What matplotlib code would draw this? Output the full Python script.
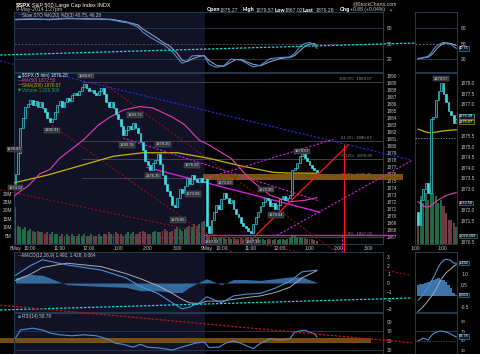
import numpy as np
import matplotlib.pyplot as plt

plt.rcParams['font.family'] = ['Liberation Sans', 'DejaVu Sans']

# ---------------- data ----------------
# $SPX 5-min closes: 8 May (78 bars), 9 May up to 1:25pm (46 bars)
day1_open = 1874.52
day1_close = [1876.0, 1879.0, 1882.5, 1884.0, 1885.5, 1886.0, 1886.5, 1885.8, 1886.4, 1885.6,
              1886.2, 1885.4, 1884.8, 1884.0, 1883.4, 1883.8, 1884.8, 1885.8, 1886.4, 1885.6,
              1886.2, 1886.8, 1886.4, 1887.2, 1887.6, 1887.2, 1887.8, 1888.4, 1888.8, 1888.2,
              1887.8, 1888.0, 1887.6, 1887.3, 1887.8, 1888.2, 1887.4, 1886.2, 1885.6, 1886.2,
              1885.4, 1884.6, 1883.8, 1882.8, 1881.6, 1882.2, 1882.8, 1882.4, 1883.2, 1882.6,
              1881.8, 1880.6, 1879.4, 1877.8, 1877.2, 1876.6, 1877.6, 1878.0, 1878.8, 1877.4,
              1875.8, 1874.6, 1873.6, 1872.8, 1871.6, 1871.2, 1872.6, 1873.8, 1873.2, 1874.2,
              1875.4, 1874.6, 1875.8, 1875.2, 1874.8, 1875.4, 1874.8, 1875.0]
day2_open = 1875.27
day2_close = [1868.5, 1867.6, 1869.4, 1870.6, 1871.6, 1871.0, 1872.4, 1873.2, 1872.6, 1871.8,
              1872.2, 1871.0, 1870.2, 1869.8, 1869.0, 1868.6, 1868.2, 1867.8, 1867.6, 1868.8,
              1869.8, 1870.6, 1871.4, 1872.0, 1872.6, 1872.2, 1871.4, 1871.8, 1871.0, 1871.6,
              1872.4, 1872.8, 1872.2, 1872.6, 1872.9, 1876.6, 1876.8, 1877.6, 1878.6, 1879.0,
              1878.2, 1877.8, 1877.2, 1876.8, 1876.5, 1876.28]
# volume, millions
day1_vol = [22, 11, 10, 9, 10, 8, 9, 8, 7, 8,
            7, 7, 6, 7, 6, 7, 6, 6, 5, 6,
            5, 6, 5, 6, 5, 5, 6, 5, 6, 5,
            5, 6, 5, 5, 6, 5, 6, 6, 7, 6,
            6, 7, 6, 6, 5, 6, 7, 6, 7, 6,
            6, 7, 8, 7, 6, 6, 7, 8, 7, 7,
            8, 9, 8, 7, 8, 9, 10, 9, 8, 9,
            10, 11, 10, 12, 11, 12, 13, 14]
day2_vol = [6, 5, 4, 4, 4, 3.5, 4, 3.5, 3, 3.5,
            3, 3.5, 3, 3, 3.5, 3, 3.5, 4, 4, 3.5,
            3, 3.5, 3, 3, 2.5, 3, 3, 2.5, 3, 2.5,
            3, 3, 2.5, 3, 3.5, 5, 4.5, 4, 4, 3.5,
            3.5, 3, 3, 3, 2.5, 1.5]

# moving averages (bar index, value)
sma50_idx = [-0.6, 2, 5, 10, 14, 18, 27.6, 34, 38.6, 44, 50.8, 56, 64, 69, 75, 79,
             88, 96, 104, 112, 118, 123]
sma50_val = [1872.8, 1873.5, 1874.2, 1876.0, 1876.6, 1878.2, 1880.8, 1883.0, 1884.1, 1885.1,
             1885.6, 1885.4, 1884.1, 1883.0, 1880.8, 1880.1,
             1878.2, 1875.1, 1872.9, 1872.0, 1872.2, 1872.58]
sma200_idx = [-0.6, 13, 27, 40, 52, 66, 79, 91, 105, 111, 123]
sma200_val = [1874.7, 1875.8, 1877.2, 1878.5, 1879.0, 1879.0, 1878.2, 1877.2, 1876.2, 1876.1, 1876.07]

# slow stochastics
sto_idx = [0, 7, 14, 21, 29, 35, 39, 43, 46, 50, 52, 55, 58, 60, 63, 66, 68, 70, 72, 75,
           77, 79, 82, 85, 88, 90, 92, 97, 100, 104, 108, 112, 114, 116, 118, 120, 122, 123]
sto_k = [97, 98, 96, 99, 97, 98, 96, 92, 90, 82, 72, 62, 54, 49, 39, 23, 12, 16, 26, 27,
         26, 10, 4, 7, 20, 19, 18, 5, 8, 21, 23, 24, 31, 44, 50, 52, 48, 40.75]
sto_d = [96, 97, 97, 98, 98, 97, 97, 94, 91, 86, 78, 69, 60, 53, 45, 31, 18, 15, 20, 25,
         27, 17, 8, 6, 14, 19, 19, 10, 7, 15, 21, 23, 27, 36, 44, 49, 50, 46.28]

# MACD(12,26,9)
macd_idx = [0, 6, 11, 21, 35, 45, 51, 58, 64, 68, 71, 75, 78, 84, 89, 94, 100, 106, 112, 117, 123]
macd_val = [0.9, 2.0, 2.7, 2.1, 1.5, 0.6, -0.4, -1.2, -2.3, -3.0, -2.8, -2.3, -1.6, -2.3, -1.5,
            -1.3, -1.2, -0.6, 0.2, 1.3, 1.492]
signal_val = [0.3, 1.0, 1.8, 2.3, 1.9, 1.1, 0.5, -0.3, -1.2, -1.9, -2.3, -2.4, -2.1, -2.1, -1.9,
              -1.7, -1.5, -1.1, -0.5, 0.6, 1.428]

# RSI(14)
rsi_idx = [0, 2, 7, 11, 14, 18, 23, 28, 33, 37, 41, 44, 48, 51, 54, 59, 64, 69, 74, 77,
           79, 83, 86, 89, 92, 97, 100, 104, 108, 112, 114, 118, 122, 123]
rsi_val = [56, 73, 77, 73, 67, 63, 61, 63, 61, 55, 45, 43, 37, 43, 37, 35, 31, 39, 46, 48,
           36, 37, 46, 50, 45, 34, 45, 55, 52, 55, 69, 73, 65, 58.78]

# price call-outs (bar index, price, text)
callout_idx = [-0.4, 0, 28.8, 14.9, 48.8, 45.5, 60.2, 56.1, 72, 72.4, 66.3, 80.2, 85.5, 96.9, 102.2, 106.3, 116.9]
callout_px = [1879.5, 1874.0, 1890.0, 1882.2, 1884.4, 1880.1, 1880.2, 1875.7, 1877.2, 1873.1,
              1869.4, 1866.2, 1874.7, 1866.2, 1873.7, 1870.1, 1879.2]
callout_txt = ['1878.83', '1874.52', '1889.07', '1882.91', '1883.73', '1880.78', '1879.20',
               '1876.35', '1876.50', '1873.06', '1870.85', '1867.02', '1873.60', '1867.18',
               '1872.90', '1870.64', '1879.57']

# Fibonacci retracement
fib_pct = ['100.0%', '61.8%', '50.0%', '38.2%', '0.0%']
fib_val = [1889.07, 1880.67, 1878.05, 1875.40, 1867.02]

# hand-drawn annotations: (start bar, start value, end bar, end value)
blue_line = (-6.3, 1892.1, 161, 1878.0)
red_dotted = [(14.9, 1882.9, 114.1, 1858.4), (36.5, 1888.8, 136.5, 1863.4), (-6.3, 1873.7, 161, 1861.5)]
red_solid = (97.8, 1867.1, 135.7, 1880.1)
red_vertical = (134.0, 1880.1, 134.0, 1859.8)
magenta_vertical = (133.2, 1867.2, 133.2, 1859.4)
magenta_dotted = [(43.9, 1881.1, 124, 1872.1), (77.4, 1875.3, 129.6, 1880.9), (106.7, 1867.2, 161.8, 1877.9)]
magenta_solid = (53.7, 1876.9, 124.3, 1870.5)
cyan_sto_line = (-6.3, 27.8, 163, 51)
cyan_macd_line = (-6.3, -3.14, 161.8, -1.74)
red_rsi_line = (-6.3, 125.5, 161.8, 46.2)

# right-hand detail panel
sm_open0 = 1871.9
sm_close = [1871.3, 1872.5, 1873.0, 1873.3, 1872.8, 1876.3, 1876.4, 1877.2, 1877.6, 1878.0,
            1877.5, 1877.1, 1876.7, 1876.5, 1876.1, 1876.28]
sm_sma200 = [1875.82, 1875.78, 1875.73, 1875.69, 1875.66, 1875.65, 1875.66, 1875.68, 1875.70,
             1875.72, 1875.74, 1875.75, 1875.76, 1875.77, 1875.78, 1875.79]
sm_sma50 = [1872.40, 1872.30, 1872.20, 1872.15, 1872.15, 1872.20, 1872.30, 1872.40, 1872.48,
            1872.55, 1872.62, 1872.68, 1872.72, 1872.76, 1872.80, 1872.82]
sm_vol = [8, 14, 12, 15, 13, 16, 15, 14, 12, 13, 11, 9, 7, 7, 6, 5]
sm_sto_k = [21, 22, 23, 24, 26, 31, 38, 44, 48, 50, 52, 52, 50, 48, 44, 40.75]
sm_sto_d = [20, 21, 22, 23, 24, 27, 32, 38, 43, 47, 50, 51, 51, 50, 48, 46.28]
sm_macd = [-0.2, -0.07, 0.07, 0.24, 0.42, 0.63, 0.83, 1.07, 1.32, 1.5, 1.62, 1.67, 1.65, 1.6, 1.5, 1.492]
sm_signal = [-0.7, -0.6, -0.48, -0.35, -0.2, -0.05, 0.1, 0.3, 0.52, 0.75, 0.9, 1.05, 1.15, 1.25, 1.35, 1.428]
sm_rsi = [50, 53, 56, 54, 52, 60, 65, 68, 70, 71, 70, 69, 67, 64, 61, 58.78]

# ---------------- figure ----------------
W, H = 480, 354
fig = plt.figure(figsize=(W / 100, H / 100), dpi=100, facecolor='black')

BG1 = '#121226'
EDGE = '#26364c'
TXT = '#c8c8c8'
CYAN = '#3fe0e8'
MAG = '#e040b8'
YEL = '#c8b400'
BLUE = '#4a90d8'
GRAY = '#a8acb8'
XL = (-0.61, 150.0)
SXL = (-1.2, 15.3)
RSI_LIM = (16.3, 108.9)


def px_axes(x0, y0, x1, y1):
    return fig.add_axes([x0 / W, 1 - y1 / H, (x1 - x0) / W, (y1 - y0) / H])


def style(ax, ylim, xlim=XL, shade=True):
    ax.set_facecolor('black')
    ax.set_xlim(*xlim)
    ax.set_ylim(*ylim)
    if shade:
        ax.axvspan(xlim[0], 77.5, color=BG1, lw=0, zorder=0)
    for s in ax.spines.values():
        s.set_color(EDGE)
        s.set_linewidth(0.8)
    ax.yaxis.tick_right()
    ax.tick_params(axis='y', colors=TXT, labelsize=3.5, length=0, pad=3)
    ax.set_xticks([])


def seg(ax, line, **kw):
    ax.plot([line[0], line[2]], [line[1], line[3]], clip_on=False, **kw)


def ftext(x, y, s, **kw):
    kw.setdefault('fontsize', 3.6)
    kw.setdefault('color', TXT)
    kw.setdefault('va', 'center')
    fig.text(x / W, 1 - y / H, s, **kw)


close = np.array(day1_close + day2_close)
n = len(close)
idx = np.arange(n)
opens = np.r_[day1_open, close[:77], day2_open, close[78:n - 1]]
vol = np.array(day1_vol + day2_vol)
up = close >= opens

# ---- volume (underneath) + price ----
ax_v = px_axes(14, 73, 383, 244)
style(ax_v, (0, 102))
ax_v.yaxis.tick_left()
ax_v.set_yticks([5, 10, 15, 20, 25, 30])
ax_v.set_yticklabels(['5M', '10M', '15M', '20M', '25M', '30M'])
ax_v.tick_params(axis='y', pad=1.5)
ax_v.bar(idx, vol, width=0.8, color=np.where(up, '#1e6a46', '#6e3a44'), lw=0)

ax_p = px_axes(14, 73, 383, 244)
ax_p.set_facecolor('none')
ax_p.set_xlim(*XL)
ax_p.set_ylim(1865.96, 1890.39)
for s in ax_p.spines.values():
    s.set_visible(False)
ax_p.yaxis.tick_right()
ax_p.set_yticks(np.arange(1867, 1891))
ax_p.tick_params(axis='y', colors=TXT, labelsize=3.3, length=0, pad=3)
xt = [0, 6, 18, 30, 42, 54, 66, 78, 84, 96, 108, 120, 132, 144]
xl = ['8May', '10:00', '11:00', '12:00', '1:00', '2:00', '3:00',
      '9May', '10:00', '11:00', '12:00', '1:00', '2:00', '3:00']
ax_p.set_xticks(xt)
ax_p.set_xticklabels(xl)
ax_p.tick_params(axis='x', colors=TXT, labelsize=3.5, length=0, pad=1.5)

# fibonacci levels
for pct, v in zip(fib_pct, fib_val):
    ax_p.plot([27, XL[1]], [v, v], color='#4a4a52', lw=0.6, zorder=1)
    ax_p.text(145.5, v + 0.15, f'{pct}  {v:.2f}', color='#8a8a8a', fontsize=3.2,
              ha='right', va='bottom', zorder=1)
ax_p.plot([77, 154], [1867.2, 1867.2], color='#d020d0', lw=1.0, clip_on=False, zorder=2)
ax_p.fill_between([76.5, 158.2], 1875.07, 1875.93, color='#8a5a10', alpha=0.9,
                  lw=0, clip_on=False, zorder=2)

# moving averages
ax_p.plot(sma200_idx, sma200_val, color=YEL, lw=0.9, zorder=3)
ax_p.plot(sma50_idx, sma50_val, color=MAG, lw=0.8, zorder=3)

# annotations
seg(ax_p, blue_line, color='#2a2ae0', lw=0.8, ls=(0, (2, 1.5)), zorder=2)
for ln in red_dotted:
    seg(ax_p, ln, color='#a01010', lw=0.7, ls=(0, (2, 2)), zorder=2)
for ln in magenta_dotted:
    seg(ax_p, ln, color='#d020e0', lw=0.8, ls=(0, (2, 1.5)), zorder=3)
seg(ax_p, magenta_solid, color='#d020e0', lw=1.0, zorder=3)
seg(ax_p, magenta_vertical, color='#d020e0', lw=0.8, ls=(0, (2, 1.5)), zorder=3)
seg(ax_p, red_solid, color='#ff1818', lw=0.9, zorder=4)
seg(ax_p, red_vertical, color='#ff1818', lw=0.8, zorder=4)

# candles
ax_p.bar(idx, close - opens, bottom=opens, width=0.75,
         color=np.where(up, '#0b2a33', CYAN), edgecolor=CYAN, lw=0.45, zorder=5)

for i, p, t in zip(callout_idx, callout_px, callout_txt):
    ax_p.text(i, p, t, fontsize=2.9, color='#d8d8d8', ha='center', va='center', zorder=6,
              clip_on=False,
              bbox=dict(boxstyle='square,pad=0.15', fc='#34343e', ec='#60606a', lw=0.3))

# legend
ftext(18, 76, '■', color=CYAN, fontsize=3.6)
ftext(22, 76, '$SPX (5 min) 1876.28', color='#d8f4f8', fontsize=3.3)
ftext(18, 80.5, '—', color=MAG, fontsize=3.3)
ftext(22, 80.5, 'MA(50) 1872.58', color=MAG, fontsize=3.3)
ftext(18, 85, '—', color=YEL, fontsize=3.3)
ftext(22, 85, 'SMA(200) 1876.07', color=YEL, fontsize=3.3)
ftext(18, 89.5, '■', color='#2a8a5a', fontsize=3.6)
ftext(22, 89.5, 'Volume 1,029,509', color='#2a9a62', fontsize=3.3)

# ---- slow stochastics ----
ax_s = px_axes(14, 12, 383, 72)
style(ax_s, (-5, 111))
ax_s.set_yticks([20, 50, 80])
for v in (20, 80):
    ax_s.axhline(v, color=EDGE, lw=0.7, zorder=1)
ax_s.axhline(50, color='#6a6a70', lw=0.5, ls=(0, (3, 2)), zorder=1)
ax_s.plot(sto_idx, sto_d, color=GRAY, lw=0.7, zorder=2)
ax_s.plot(sto_idx, sto_k, color=BLUE, lw=0.8, zorder=3)
seg(ax_s, cyan_sto_line, color='#20d0d0', lw=0.9, ls=(0, (2, 1.2)), zorder=4)
ftext(18, 15, '—', color=BLUE, fontsize=3.3)
ftext(22, 15, 'Slow STO %K(20) %D(3) 40.75, 46.28', color=TXT, fontsize=3.3)

# ---- MACD ----
ax_m = px_axes(14, 252, 383, 312)
style(ax_m, (-3.37, 3.6))
ax_m.set_yticks([-3, -2, -1, 0, 1, 2, 3])
hist = np.array(macd_val) - np.array(signal_val)
ax_m.fill_between(macd_idx, hist, 0, color='#3a74aa', lw=0, alpha=0.9, zorder=1)
ax_m.plot(macd_idx, signal_val, color=GRAY, lw=0.7, zorder=2)
ax_m.plot(macd_idx, macd_val, color=BLUE, lw=0.8, zorder=3)
seg(ax_m, cyan_macd_line, color='#20d0d0', lw=0.9, ls=(0, (2, 1.2)), zorder=4)
ftext(18, 255.5, '—', color=BLUE, fontsize=3.3)
ftext(22, 255.5, 'MACD(12,26,9) 1.492, 1.428, 0.064', color=TXT, fontsize=3.3)

# ---- RSI ----
ax_r = px_axes(14, 313, 383, 357)
style(ax_r, RSI_LIM)
ax_r.set_yticks([30, 50, 70, 90])
ax_r.axhline(70, color=EDGE, lw=0.7, zorder=1)
ax_r.axhline(30, color=EDGE, lw=0.7, zorder=1)
ax_r.fill_between([-6.3, 145], 46, 57, color='#8a5a10', alpha=0.85, lw=0, zorder=1,
                  clip_on=False)
ax_r.plot(rsi_idx, rsi_val, color=BLUE, lw=0.8, zorder=3)
seg(ax_r, red_rsi_line, color='#c01010', lw=0.9, ls=(0, (2, 1.2)), zorder=4)
ftext(18, 316.5, '■', color=BLUE, fontsize=3.6)
ftext(22, 316.5, 'RSI(14) 58.78', color=TXT, fontsize=3.3)

# ---- right-hand detail panels ----
sidx = np.arange(len(sm_close))
sm_c = np.array(sm_close)
sm_o = np.r_[sm_open0, sm_c[:-1]]
sm_up = sm_c >= sm_o

bs = px_axes(415, 12, 457, 72)
style(bs, (-5, 111), SXL, shade=False)
bs.set_yticks([20, 50, 80])
for v in (20, 80):
    bs.axhline(v, color=EDGE, lw=0.7)
bs.axhline(50, color='#8a8a8a', lw=0.5, ls=(0, (3, 2)))
bs.plot(sidx, sm_sto_d, color=GRAY, lw=0.7)
bs.plot(sidx, sm_sto_k, color=BLUE, lw=0.8)

bv = px_axes(415, 73, 457, 244)
style(bv, (0, 50), SXL, shade=False)
bv.set_yticks([])
bv.bar(sidx, sm_vol, width=0.8, color=np.where(sm_up, '#1e6a46', '#6e3a44'), lw=0)
bp = px_axes(415, 73, 457, 244)
bp.set_facecolor('none')
bp.set_xlim(*SXL)
bp.set_ylim(1870.4, 1878.47)
for s in bp.spines.values():
    s.set_visible(False)
bp.yaxis.tick_right()
bp.set_yticks([1870.5, 1871.5, 1872.0, 1873.0, 1873.5, 1874.0, 1874.5, 1875.0, 1875.5,
               1877.0, 1877.5, 1878.0])
bp.yaxis.set_major_formatter(plt.FormatStrFormatter('%.1f'))
bp.tick_params(axis='y', colors=TXT, labelsize=3.3, length=0, pad=3)
bp.set_xticks([-1.2, 9.4])
bp.set_xticklabels(['1:00', '1:00'])
bp.tick_params(axis='x', colors=TXT, labelsize=3.5, length=0, pad=1.5)
bp.axhline(1875.40, color='#b0b0b0', lw=0.5, ls=(0, (2, 2)))
bp.plot(sidx, sm_sma200, color=YEL, lw=0.9)
bp.plot(sidx, sm_sma50, color=MAG, lw=0.8)
bp.bar(sidx, sm_c - sm_o, bottom=sm_o, width=0.7,
       color=np.where(sm_up, '#0b2a33', CYAN), edgecolor=CYAN, lw=0.45, zorder=5)
bp.text(9, 1878.2, '1879.57', fontsize=2.9, color='#d8d8d8', ha='center', va='center', zorder=6,
        bbox=dict(boxstyle='square,pad=0.15', fc='#34343e', ec='#60606a', lw=0.3))

bm = px_axes(415, 252, 457, 312)
style(bm, (-0.727, 2.0), SXL, shade=False)
bm.set_yticks([-0.5, 0.5, 1.0])
bm.set_yticklabels(['-0.5', '0.5', '1.0'])
sm_hist = np.array(sm_macd) - np.array(sm_signal)
bm.bar(sidx, sm_hist, width=1.0, color='#3a74aa', lw=0)
bm.plot(sidx, sm_signal, color=GRAY, lw=0.7)
bm.plot(sidx, sm_macd, color=BLUE, lw=0.8)

br = px_axes(415, 313, 457, 357)
style(br, RSI_LIM, SXL, shade=False)
br.set_yticks([30, 50, 70, 90])
br.tick_params(axis='y', labelsize=3.2)
br.axhline(70, color=EDGE, lw=0.7)
br.axhline(50, color='#6a6a70', lw=0.5, ls=(0, (2, 2)))
br.plot(sidx, sm_rsi, color=BLUE, lw=0.8)

# value tags on the right axis
tag_y = [48.3, 116.3, 122.0, 203, 236, 263, 295, 336.3]
tag_txt = ['40.75', '1876.28', '1876.07', '1872.58', '1,029,509', '1.492', '0.064', '58.78']
tag_ec = [BLUE, CYAN, YEL, MAG, '#2a9a62', BLUE, BLUE, BLUE]
for y, t, ec in zip(tag_y, tag_txt, tag_ec):
    ftext(459, y, t, color='white', fontsize=2.8,
          bbox=dict(boxstyle='square,pad=0.1', fc='#0c1826', ec=ec, lw=0.4))

# ---- header ----
ftext(16, 5, '$SPX', color='white', fontsize=4.2, fontweight='bold')
ftext(32, 5, 'S&P 500 Large Cap Index INDX', color='white', fontsize=4.0)
ftext(16, 10, '9-May-2014 1:27pm', color=TXT, fontsize=3.7)
hdr = [(207, 'Open', '1875.27'), (243, 'High', '1879.57'), (275, 'Low', '1867.02'),
       (303, 'Last', '1876.28'), (340, 'Chg', '+0.88 (+0.04%)')]
for x, k, v in hdr:
    ftext(x, 10, k, color='white', fontsize=3.8, fontweight='bold')
    ftext(x + len(k) * 2.7 + 2, 10, v, color=TXT, fontsize=3.7)
ftext(388, 10, '▲', color='#20c040', fontsize=3.0)
ftext(353, 4, '@StockCharts.com', color=TXT, fontsize=3.7)

fig.savefig('out.png', dpi=100, facecolor='black')
